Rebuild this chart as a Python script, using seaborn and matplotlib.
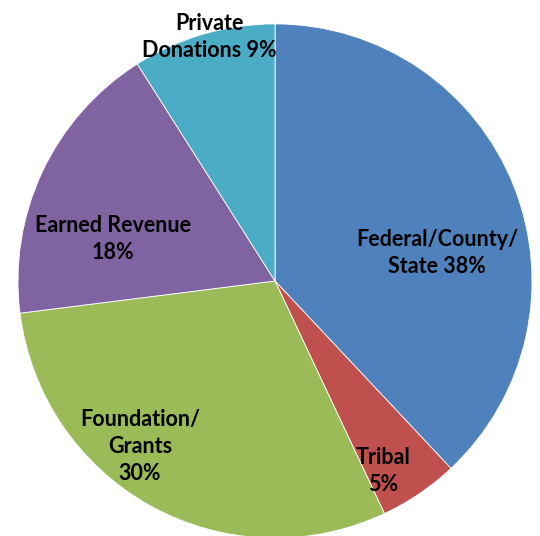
import matplotlib
matplotlib.use("Agg")
import matplotlib.pyplot as plt
import seaborn as sns

# Funding sources (percent)
sources = ["Federal/County/\nState", "Tribal", "Foundation/\nGrants", "Earned Revenue", "Private\nDonations"]
shares = [38, 5, 30, 18, 9]
colors = ["#4F81BD", "#C0504D", "#9BBB59", "#8064A2", "#4BACC6"]

sns.set_theme(style="white")
plt.rcParams['font.family'] = ['Lato', 'DejaVu Sans']

fig = plt.figure(figsize=(5.4, 5.36), dpi=100)
ax = fig.add_axes([0, 0, 1, 1])
wedges, _ = ax.pie(shares, colors=colors, startangle=90, counterclock=False,
                   wedgeprops=dict(edgecolor="white", linewidth=0.6))

# label text placement (pie-radius units)
label_xy = [(0.63, 0.11), (0.42, -0.74), (-0.525, -0.645), (-0.63, 0.165), (-0.255, 0.95)]
label_txt = [
    "Federal/County/\nState 38%",
    "Tribal\n5%",
    "Foundation/\nGrants\n30%",
    "Earned Revenue\n18%",
    "Private\nDonations 9%",
]
for (x, y), t in zip(label_xy, label_txt):
    ax.text(x, y, t, ha="center", va="center", fontsize=15.5, fontweight="bold",
            color="black", linespacing=1.35)

ax.set_xlim(-1.070, 1.031)
ax.set_ylim(-0.992, 1.093)
ax.set_aspect("auto")
ax.axis("off")
fig.savefig("out.png", dpi=100)
